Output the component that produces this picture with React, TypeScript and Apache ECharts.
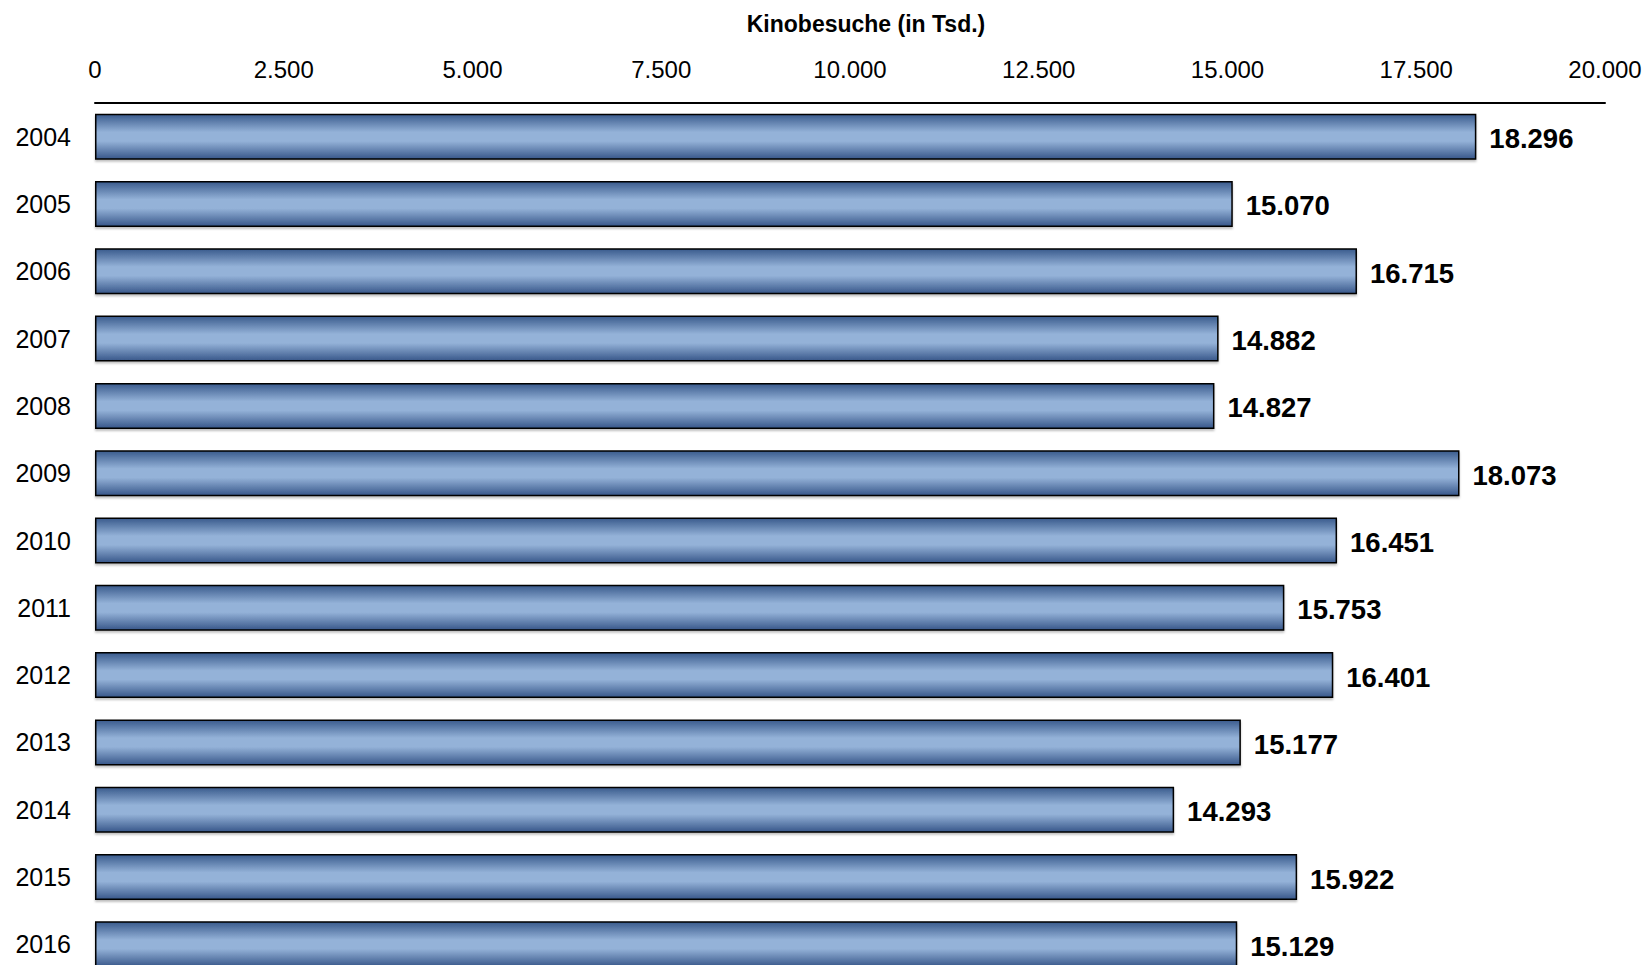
import React, { useEffect, useRef } from "react";
import * as echarts from "echarts";

// Kinobesuche je Jahr (in Tausend)
const years = ["2004", "2005", "2006", "2007", "2008", "2009", "2010", "2011", "2012", "2013", "2014", "2015", "2016"];
const visits = [18296, 15070, 16715, 14882, 14827, 18073, 16451, 15753, 16401, 15177, 14293, 15922, 15129];
const axisTitle = "Kinobesuche (in Tsd.)";
const axisMax = 20000;
const axisStep = 2500;

const FONT = "'Liberation Sans', Arial, sans-serif";

// German number format: thousands separated with a dot
const fmt = (v: number) => String(v).replace(/\B(?=(\d{3})+(?!\d))/g, ".");

export default function App() {
  const ref = useRef<HTMLDivElement>(null);

  useEffect(() => {
    if (!ref.current) return;
    const chart = echarts.init(ref.current, null, { renderer: "svg" });
    chart.setOption({
      animation: false,
      backgroundColor: "#ffffff",
      textStyle: { fontFamily: FONT },
      grid: { left: 95, width: 1510, top: 103, height: 875 },
      graphic: [
        {
          type: "text",
          x: 866,
          y: 24,
          style: {
            text: axisTitle,
            font: `bold 23px ${FONT}`,
            fill: "#000",
            textAlign: "center",
            textVerticalAlign: "middle",
          },
        },
      ],
      xAxis: {
        type: "value",
        position: "top",
        min: 0,
        max: axisMax,
        interval: axisStep,
        axisLine: { show: true, lineStyle: { color: "#000", width: 2 } },
        axisTick: { show: false },
        splitLine: { show: false },
        axisLabel: {
          color: "#000",
          fontSize: 24,
          fontFamily: FONT,
          margin: 22,
          formatter: (v: number) => fmt(v),
        },
      },
      yAxis: {
        type: "category",
        data: years,
        inverse: true,
        axisLine: { show: false },
        axisTick: { show: false },
        axisLabel: { color: "#000", fontSize: 25, fontFamily: FONT, margin: 24 },
      },
      series: [
        {
          type: "bar",
          data: visits,
          barWidth: 46,
          itemStyle: {
            color: new echarts.graphic.LinearGradient(0, 0, 0, 1, [
              { offset: 0, color: "#3a5b8d" },
              { offset: 0.4, color: "#94b2d8" },
              { offset: 0.6, color: "#94b2d8" },
              { offset: 1, color: "#38578a" },
            ]),
            borderColor: "#000",
            borderWidth: 1.5,
            shadowColor: "rgba(0,0,0,0.25)",
            shadowOffsetY: 2,
            shadowBlur: 2,
          },
          label: {
            show: true,
            position: "right",
            distance: 13,
            offset: [0, 2],
            color: "#000",
            fontSize: 27.5,
            fontWeight: "bold",
            fontFamily: FONT,
            formatter: (p: any) => fmt(p.value),
          },
        },
      ],
    });
    return () => chart.dispose();
  }, []);

  return (
    <div
      style={{
        position: "fixed",
        left: 0,
        top: 0,
        width: 1650,
        height: 965,
        overflow: "hidden",
        background: "#fff",
      }}
    >
      <div ref={ref} style={{ width: 1650, height: 1000 }} />
    </div>
  );
}
